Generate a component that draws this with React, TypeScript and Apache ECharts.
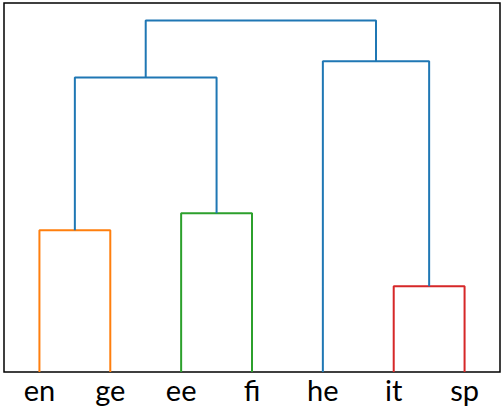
import React, { useEffect, useRef } from "react";
import * as echarts from "echarts";

const leaves = ["en", "ge", "ee", "fi", "he", "it", "sp"];
// Merges: node ids 0..6 are leaves, merge k creates node 7 + k
const mergeA = [0, 2, 5, 7, 4, 10];
const mergeB = [1, 3, 6, 8, 9, 11];
const mergeHeight = [0.403, 0.452, 0.244, 0.838, 0.884, 1.0];
const mergeColor = ["#ff7f0e", "#2ca02c", "#d62728", "#1f77b4", "#1f77b4", "#1f77b4"];

export default function App() {
  const ref = useRef<HTMLDivElement>(null);
  useEffect(() => {
    if (!ref.current) return;
    const chart = echarts.init(ref.current, null, { renderer: "svg" });
    const n = leaves.length;
    const pos: number[] = [];
    const hgt: number[] = [];
    for (let i = 0; i < n; i++) {
      pos.push(5 + 10 * i);
      hgt.push(0);
    }
    const series: any[] = [];
    mergeA.forEach((a, k) => {
      const b = mergeB[k];
      const h = mergeHeight[k];
      series.push({
        type: "line",
        data: [
          [pos[a], hgt[a]],
          [pos[a], h],
          [pos[b], h],
          [pos[b], hgt[b]],
        ],
        symbol: "none",
        lineStyle: { color: mergeColor[k], width: 2 },
        silent: true,
      });
      pos.push((pos[a] + pos[b]) / 2);
      hgt.push(h);
    });
    const maxH = Math.max(...mergeHeight);
    chart.setOption({
      animation: false,
      grid: {
        left: 4,
        top: 3,
        right: 4,
        bottom: 45,
        show: true,
        borderColor: "#000",
        borderWidth: 1.5,
        backgroundColor: "#fff",
      },
      xAxis: {
        type: "value",
        min: 0,
        max: n * 10,
        interval: 5,
        axisLine: { show: false },
        axisTick: { show: false },
        splitLine: { show: false },
        axisLabel: {
          margin: 3,
          fontFamily: "Lato",
          fontSize: 29,
          color: "#000",
          formatter: (v: number) => (v % 10 === 5 ? leaves[(v - 5) / 10] : ""),
        },
      },
      yAxis: {
        type: "value",
        min: 0,
        max: maxH * 1.05,
        axisLine: { show: false },
        axisTick: { show: false },
        axisLabel: { show: false },
        splitLine: { show: false },
      },
      series,
    });
    return () => chart.dispose();
  }, []);
  return <div ref={ref} style={{ width: 504, height: 417, position: "absolute", left: 0, top: 0 }} />;
}
